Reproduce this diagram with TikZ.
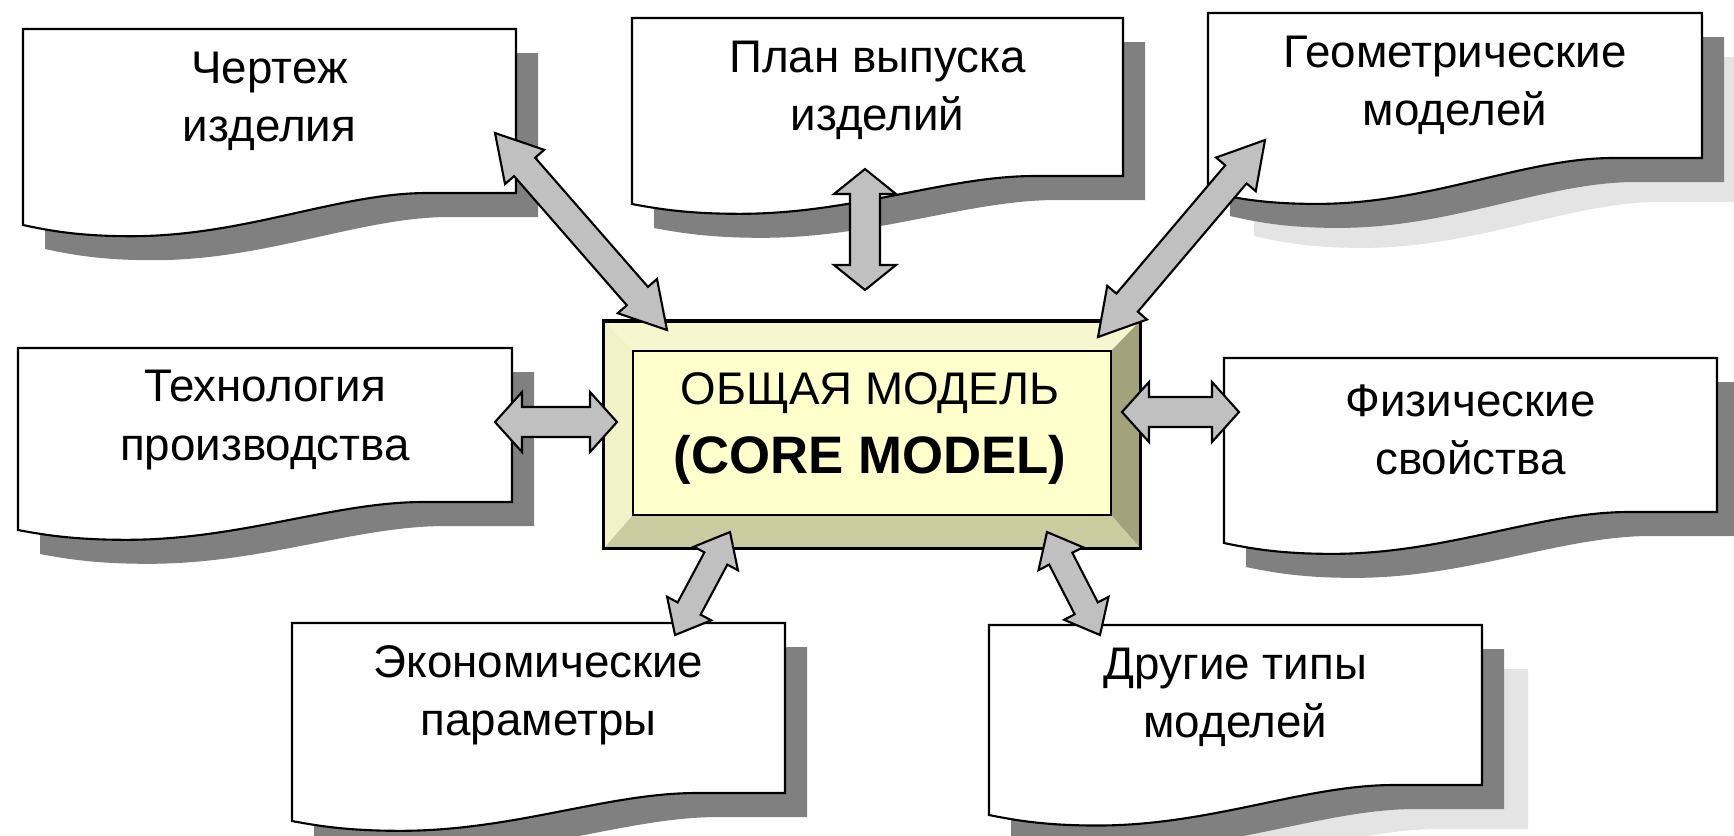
\documentclass[tikz,border=0pt]{standalone}
\usepackage{fontspec}
\setmainfont{Liberation Sans}
\usetikzlibrary{calc}

\definecolor{shadowgray}{HTML}{808080}
\definecolor{lightshadow}{HTML}{E4E4E4}
\definecolor{arrowgray}{HTML}{C0C0C0}
\definecolor{corefill}{HTML}{FFFFCC}
\definecolor{beveltop}{HTML}{F7F7CF}
\definecolor{bevelleft}{HTML}{F2F2C6}
\definecolor{bevelright}{HTML}{A3A37B}
\definecolor{bevelbottom}{HTML}{CBCBA0}

% document shape: left, top, right, bottom-left y, bottom-right y
\newcommand{\docpath}[5]{(#1,#2) -- (#3,#2) -- (#3,#5)
  -- ({#1+0.82*(#3-#1)},#5)
  .. controls ({#1+0.64*(#3-#1)},#5) and ({#1+0.45*(#3-#1)},{#4+0.35*(#4-#5)})
  .. ({#1+0.22*(#3-#1)},{#4+0.35*(#4-#5)})
  .. controls ({#1+0.12*(#3-#1)},{#4+0.35*(#4-#5)}) and ({#1+0.06*(#3-#1)},{#4+0.2*(#4-#5)})
  .. (#1,#4) -- cycle}

% shadow, frame and text of one document
\newcommand{\docbox}[7]{%
  \fill[docshadow] \docpath{#2}{#3}{#4}{#5}{#6};
  \filldraw[docframe] \docpath{#2}{#3}{#4}{#5}{#6};
  \node[doctext] (#1) at ({(#2+#4)/2},{#3+72}) {#7};
}

% block double arrow: from, to, head length, head half width, shaft half width
\newcommand{\dblarrow}[5]{%
  \filldraw[blockarrow] (#1)
    -- ($(#1)!#3!(#2)!#4!90:(#2)$) -- ($(#1)!#3!(#2)!#5!90:(#2)$)
    -- ($(#2)!#3!(#1)!#5!-90:(#1)$) -- ($(#2)!#3!(#1)!#4!-90:(#1)$)
    -- (#2)
    -- ($(#2)!#3!(#1)!#4!90:(#1)$) -- ($(#2)!#3!(#1)!#5!90:(#1)$)
    -- ($(#1)!#3!(#2)!#5!-90:(#2)$) -- ($(#1)!#3!(#2)!#4!-90:(#2)$)
    -- cycle;
}

\begin{document}
\begin{tikzpicture}[
  x=0.01cm, y=-0.01cm,
  docshadow/.style={fill=shadowgray, shift={(22,24)}},
  lightdoc/.style={fill=lightshadow, shift={(46,44)}},
  docframe/.style={draw=black, fill=white, line width=0.6pt},
  doctext/.style={align=center, inner sep=0pt, font=\fontsize{13}{16.5}\selectfont},
  coretext/.style={inner sep=0pt, font=\fontsize{13}{16}\selectfont},
  blockarrow/.style={draw=black, fill=arrowgray, line width=0.6pt, line join=miter}
]
\useasboundingbox (0,0) rectangle (1734,835);

% documents
\docbox{drawing}{23}{29}{516}{225}{193}{Чертеж\\изделия}
\docbox{plan}{632}{18}{1123}{204}{176}{План выпуска\\изделий}
\fill[lightdoc] \docpath{1208}{13}{1702}{192}{158};
\docbox{geometry}{1208}{13}{1702}{192}{158}{Геометрические\\моделей}
\docbox{process}{18}{348}{512}{530}{502}{Технология\\производства}
\docbox{physics}{1224}{358}{1717}{543}{512}{Физические\\свойства}
\docbox{economy}{292}{623}{785}{821}{793}{Экономические\\параметры}
\fill[lightdoc] \docpath{989}{625}{1482}{815}{785};
\docbox{other}{989}{625}{1482}{815}{785}{Другие типы\\моделей}

% core model, bevelled box
\fill[beveltop] (604,321) -- (1140,321) -- (1111,351) -- (633,351) -- cycle;
\fill[bevelleft] (604,321) -- (633,351) -- (633,515) -- (604,548) -- cycle;
\fill[bevelright] (1140,321) -- (1140,548) -- (1111,515) -- (1111,351) -- cycle;
\fill[bevelbottom] (604,548) -- (633,515) -- (1111,515) -- (1140,548) -- cycle;
\filldraw[fill=corefill, draw=black, line width=0.6pt] (633,351) rectangle (1111,515);
\node[draw=black, line width=0.9pt, minimum width=5.36cm, minimum height=2.27cm] (core) at (872,434.5) {};
\node[coretext] (core-ru) at (870,393) {ОБЩАЯ МОДЕЛЬ};
\node[coretext, font=\fontsize{15}{18}\selectfont\bfseries] (core-en) at (870,460) {(CORE MODEL)};

% arrow ends
\coordinate (drawing-end) at (495,133);
\coordinate (core-a) at (667,330);
\coordinate (plan-end) at (865,169);
\coordinate (core-b) at (865,290);
\coordinate (geometry-end) at (1265,140);
\coordinate (core-c) at (1098,337);
\coordinate (process-end) at (495,422);
\coordinate (core-d) at (617,422);
\coordinate (core-e) at (1122,412);
\coordinate (physics-end) at (1239,412);
\coordinate (core-f) at (730,532);
\coordinate (economy-end) at (675,635);
\coordinate (core-g) at (1047,532);
\coordinate (other-end) at (1100,635);

\dblarrow{drawing-end}{core-a}{0.45cm}{0.26cm}{0.14cm}
\dblarrow{plan-end}{core-b}{0.25cm}{0.31cm}{0.15cm}
\dblarrow{geometry-end}{core-c}{0.45cm}{0.26cm}{0.14cm}
\dblarrow{process-end}{core-d}{0.27cm}{0.30cm}{0.15cm}
\dblarrow{core-e}{physics-end}{0.27cm}{0.30cm}{0.15cm}
\dblarrow{core-f}{economy-end}{0.30cm}{0.25cm}{0.13cm}
\dblarrow{core-g}{other-end}{0.30cm}{0.25cm}{0.13cm}
\end{tikzpicture}
\end{document}
